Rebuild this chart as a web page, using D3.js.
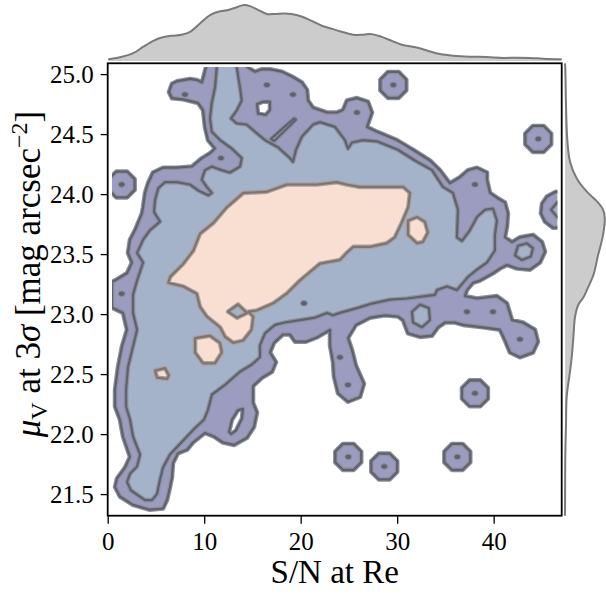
<!DOCTYPE html>
<html>
<head>
<meta charset="utf-8">
<script src="https://cdn.jsdelivr.net/npm/d3@7"></script>
<style>
body { margin: 0; background: #fff; }
svg text { font-family: "Liberation Serif", "Times New Roman", serif; fill: #000; }
</style>
</head>
<body>
<script>
// ticks
var xTicks = [0, 10, 20, 30, 40];
var yTicks = [21.5, 22.0, 22.5, 23.0, 23.5, 24.0, 24.5, 25.0];

// marginal densities (x: S/N, y: mu_V), relative units
var xMargGrid = [0.06,1.27,2.65,3.69,4.73,5.60,6.63,7.67,8.53,9.56,10.60,11.46,12.50,13.37,14.12,14.75,15.61,16.48,17.34,18.37,19.59,20.96,22.18,23.38,24.07,25.45,26.49,27.36,28.39,29.43,30.47,32.02,33.22,34.44,35.81,37.54,39.27,40.99,42.38,43.76,45.14,47.05];
var xMargDens = [0.03,0.066,0.14,0.255,0.36,0.42,0.45,0.47,0.52,0.67,0.82,0.88,0.91,0.96,1.0,0.98,0.91,0.84,0.84,0.85,0.82,0.73,0.63,0.57,0.53,0.47,0.47,0.48,0.43,0.36,0.29,0.24,0.18,0.125,0.095,0.077,0.071,0.054,0.059,0.054,0.041,0.03];
var yMargGrid = [25.09,25.05,24.74,24.46,24.27,24.13,24.02,23.94,23.87,23.80,23.66,23.49,23.33,23.20,23.14,23.08,22.98,22.81,22.64,22.48,22.31,22.09,21.81,21.53,21.32];
var yMargDens = [0.0,0.005,0.018,0.04,0.09,0.21,0.39,0.57,0.68,0.71,0.68,0.59,0.51,0.39,0.33,0.24,0.18,0.15,0.12,0.077,0.03,0.018,0.005,0.002,0.0];

// KDE level 1 (outer) contour, [S/N, mu_V]
var outerMain = [[10.19,25.12],[10.19,25.06],[9.77,24.93],[9.25,24.95],[8.53,24.96],[7.18,24.94],[6.66,24.92],[6.35,24.85],[6.66,24.80],[7.80,24.79],[9.36,24.76],[9.88,24.70],[10.08,24.56],[10.39,24.45],[11.12,24.38],[10.60,24.34],[9.77,24.30],[8.73,24.23],[7.18,24.22],[5.73,24.22],[4.69,24.18],[4.18,24.09],[3.87,24.01],[3.66,23.89],[3.55,23.84],[2.83,23.70],[2.31,23.62],[2.10,23.51],[2.52,23.43],[2.00,23.34],[0.76,23.28],[0.45,23.27],[0.45,23.05],[0.55,23.05],[1.59,23.01],[2.00,22.87],[1.48,22.73],[1.07,22.56],[0.76,22.37],[0.76,22.23],[1.27,22.12],[1.59,21.98],[2.31,21.81],[1.79,21.72],[0.96,21.63],[0.76,21.56],[1.27,21.48],[2.62,21.41],[4.38,21.37],[5.73,21.38],[6.15,21.45],[6.46,21.56],[6.66,21.64],[6.77,21.76],[7.28,21.84],[8.22,21.87],[8.84,21.93],[10.08,22.01],[11.02,21.98],[11.95,21.93],[13.09,21.91],[14.43,21.97],[15.16,22.06],[15.47,22.18],[15.06,22.26],[15.06,22.40],[15.99,22.47],[17.03,22.52],[17.44,22.60],[16.82,22.68],[17.23,22.76],[18.16,22.83],[18.89,22.83],[19.41,22.77],[20.55,22.77],[21.79,22.81],[23.04,22.87],[23.04,22.74],[23.35,22.60],[23.45,22.48],[23.87,22.34],[24.90,22.27],[26.15,22.31],[26.56,22.42],[25.73,22.57],[25.32,22.70],[24.90,22.80],[25.73,22.91],[27.18,22.97],[28.73,22.99],[30.08,22.98],[30.60,22.95],[31.12,22.84],[32.36,22.81],[33.61,22.82],[34.23,22.89],[34.95,22.93],[35.99,22.93],[36.82,22.91],[38.89,22.89],[40.65,22.87],[41.17,22.78],[41.69,22.68],[42.72,22.64],[44.07,22.68],[44.59,22.77],[44.28,22.87],[43.03,22.93],[41.90,22.95],[41.38,23.09],[40.34,23.15],[38.27,23.13],[37.02,23.15],[37.23,23.20],[37.85,23.26],[38.58,23.28],[39.93,23.34],[40.65,23.38],[41.38,23.41],[42.41,23.38],[43.76,23.37],[44.80,23.43],[45.32,23.52],[45.01,23.60],[44.07,23.66],[42.72,23.64],[41.90,23.60],[41.17,23.64],[41.38,23.73],[41.48,23.84],[41.17,23.93],[40.34,23.97],[39.62,24.01],[39.31,24.12],[39.31,24.18],[38.27,24.22],[37.34,24.20],[36.50,24.14],[35.47,24.09],[34.43,24.20],[33.40,24.28],[31.64,24.37],[29.98,24.45],[27.91,24.52],[26.87,24.56],[27.39,24.68],[26.97,24.77],[25.83,24.80],[24.80,24.78],[24.38,24.70],[23.76,24.68],[22.73,24.68],[21.28,24.72],[20.76,24.78],[20.65,24.87],[20.13,24.93],[19.10,24.98],[18.06,25.02],[16.82,25.04],[15.99,25.04],[15.26,25.02],[14.43,25.06],[14.43,25.12]];
var outerEdgeBlob = [[46.45,24.02],[45.52,23.98],[45.01,23.92],[44.90,23.84],[45.32,23.77],[46.14,23.72],[47.49,23.72],[47.49,24.02]];
var outerHoles = [
  [[15.47,24.75],[16.09,24.77],[16.82,24.77],[16.82,24.70],[16.40,24.66],[15.57,24.67]],
  [[16.92,24.46],[18.16,24.55],[19.31,24.63],[19.51,24.62],[18.37,24.53],[17.23,24.44]],
  [[12.57,22.02],[12.88,22.12],[13.50,22.20],[14.02,22.21],[13.92,22.13],[13.30,22.03],[12.78,22.00]]
];
// single galaxies far from the rest (level 1 rings)
var singles = [[29.60,24.91],[44.62,24.46],[38.06,22.34],[24.93,21.81],[28.66,21.73],[36.23,21.81],[1.45,24.08]];

// KDE level 2 contour
var midMain = [[11.30,25.12],[11.30,25.06],[11.12,24.89],[10.78,24.76],[10.60,24.63],[10.78,24.52],[11.64,24.45],[12.85,24.38],[13.89,24.30],[13.71,24.23],[12.67,24.18],[11.81,24.20],[10.78,24.23],[10.08,24.20],[9.74,24.12],[10.26,24.06],[10.78,24.01],[10.42,23.99],[9.39,24.03],[8.53,24.08],[7.15,24.10],[5.94,24.10],[5.24,24.05],[4.90,23.95],[4.80,23.85],[5.42,23.77],[4.38,23.70],[3.66,23.62],[3.04,23.51],[3.66,23.43],[3.04,23.28],[2.62,23.16],[2.62,23.01],[3.04,22.87],[2.62,22.73],[2.10,22.56],[1.90,22.37],[1.90,22.23],[2.31,22.12],[2.62,21.98],[3.35,21.83],[3.04,21.73],[2.31,21.67],[2.00,21.60],[2.41,21.53],[3.87,21.45],[4.59,21.45],[5.11,21.50],[5.42,21.62],[5.73,21.72],[6.46,21.83],[7.28,21.90],[8.22,21.98],[9.05,22.05],[9.98,22.12],[10.39,22.20],[10.81,22.33],[12.16,22.41],[13.71,22.52],[14.95,22.58],[15.78,22.64],[15.78,22.74],[16.30,22.84],[17.34,22.91],[18.37,22.93],[19.93,22.95],[21.48,22.97],[22.73,23.01],[23.35,22.99],[24.07,23.01],[25.83,23.05],[27.49,23.09],[29.25,23.12],[31.02,23.13],[33.92,23.16],[34.12,23.20],[35.16,23.23],[36.19,23.20],[37.34,23.31],[38.27,23.37],[39.31,23.43],[40.13,23.53],[40.13,23.66],[40.34,23.78],[39.93,23.88],[39.10,23.87],[38.27,23.81],[37.54,23.70],[36.71,23.61],[36.19,23.64],[36.30,23.87],[35.78,24.01],[34.75,24.06],[33.61,24.20],[31.84,24.28],[30.08,24.37],[27.91,24.44],[26.46,24.45],[25.32,24.43],[24.90,24.38],[24.59,24.45],[23.56,24.56],[22.00,24.60],[21.28,24.58],[20.13,24.48],[19.51,24.37],[19.20,24.27],[18.89,24.30],[17.65,24.39],[16.30,24.45],[15.26,24.52],[14.40,24.58],[13.37,24.59],[12.78,24.63],[13.40,24.70],[13.89,24.78],[13.71,24.89],[13.37,25.06],[13.37,25.12]];
var midIslands = [
  [[42.52,23.57],[43.45,23.59],[44.07,23.55],[43.86,23.48],[42.93,23.45],[42.21,23.49]],
  [[31.53,23.02],[32.36,23.08],[33.29,23.05],[33.40,22.95],[32.57,22.89],[31.64,22.93]],
  [[47.49,23.95],[46.56,23.93],[45.94,23.87],[46.56,23.81],[47.49,23.78]]
];

// KDE level 3 contour
var innerMain = [[6.28,23.26],[6.46,23.31],[7.83,23.42],[8.87,23.53],[9.56,23.67],[10.94,23.76],[12.33,23.89],[14.05,24.01],[16.48,24.02],[18.55,24.08],[21.66,24.08],[23.73,24.10],[24.77,24.08],[26.15,24.06],[28.22,24.06],[30.63,24.06],[31.33,24.01],[31.15,23.89],[30.47,23.76],[29.77,23.64],[28.91,23.59],[27.18,23.56],[25.45,23.56],[24.77,23.51],[24.07,23.45],[22.00,23.42],[19.93,23.28],[18.55,23.17],[17.16,23.09],[15.44,23.03],[14.57,23.02],[15.09,22.98],[14.92,22.87],[14.05,22.78],[13.02,22.76],[12.16,22.81],[11.64,22.89],[10.26,22.98],[9.56,23.06],[9.22,23.17],[7.83,23.23]];
var innerIslands = [
  [[9.05,22.80],[10.60,22.82],[11.64,22.76],[11.84,22.68],[11.12,22.59],[9.88,22.59],[9.05,22.68]],
  [[4.90,22.53],[5.94,22.55],[6.35,22.49],[6.15,22.46],[5.11,22.47]],
  [[31.12,23.78],[32.05,23.81],[32.88,23.77],[33.19,23.68],[32.67,23.60],[32.05,23.59],[31.12,23.66]]
];
var innerHole = [[12.47,23.02],[13.50,23.08],[14.43,23.01],[13.40,22.97]];

// tiny local maxima
var peaks = [[8.01,24.83],[11.74,24.30],[16.50,24.91],[19.20,24.83],[25.83,24.68],[38.06,24.08],[24.07,22.64],[24.90,22.41],[37.23,23.02],[39.93,23.02],[42.72,22.79],[1.45,23.17],[20.34,23.09]];

var purple = "#9c9cc0", blue = "#a4b3ca", peach = "#f9dfd2";

var svg = d3.select("body")
  .append("svg")
    .attr("width", 606)
    .attr("height", 596);

var x = d3.scaleLinear().domain([0, 47.05]).range([107.7, 561.7]);
var y = d3.scaleLinear().domain([21.32, 25.09]).range([515.7, 63.3]);
var ty = d3.scaleLinear().domain([0, 1]).range([61, 5]);
var rx = d3.scaleLinear().domain([0, 1]).range([565, 621]);

// marginals
var topData = d3.zip(xMargGrid, xMargDens);
var rightData = d3.zip(yMargGrid, yMargDens);

svg.append("path")
    .attr("d", d3.area().x(function(d) { return x(d[0]); }).y0(ty(0)).y1(function(d) { return ty(d[1]); }).curve(d3.curveCatmullRom)(topData))
    .attr("fill", "#cccccc");
svg.append("path")
    .attr("d", d3.line().x(function(d) { return x(d[0]); }).y(function(d) { return ty(d[1]); }).curve(d3.curveCatmullRom)(topData))
    .attr("fill", "none").attr("stroke", "#7a7a7a").attr("stroke-width", 2);

svg.append("path")
    .attr("d", d3.area().y(function(d) { return y(d[0]); }).x0(rx(0)).x1(function(d) { return rx(d[1]); }).curve(d3.curveCatmullRom)(rightData))
    .attr("fill", "#cccccc");
svg.append("path")
    .attr("d", d3.line().y(function(d) { return y(d[0]); }).x(function(d) { return rx(d[1]); }).curve(d3.curveCatmullRom)(rightData))
    .attr("fill", "none").attr("stroke", "#7a7a7a").attr("stroke-width", 2);

// contour area
svg.append("clipPath").attr("id", "kdeclip").append("rect")
    .attr("x", x(0.45)).attr("y", y(25.06))
    .attr("width", x(46.6) - x(0.45)).attr("height", y(21.32) - y(25.06));

var g = svg.append("g").attr("clip-path", "url(#kdeclip)");
var poly = d3.line()
    .x(function(d) { return x(d[0]); })
    .y(function(d) { return y(d[1]); })
    .curve(d3.curveLinearClosed);

function octagon(c) {
  var cx = x(c[0]), cy = y(c[1]);
  var pts = d3.range(8).map(function(i) {
    var a = Math.PI / 8 + i * Math.PI / 4;
    return [cx + 14 * Math.cos(a), cy + 14 * Math.sin(a)];
  });
  return "M" + pts.join("L") + "Z";
}

var lvl1 = [outerMain, outerEdgeBlob].map(poly).concat(singles.map(octagon));
var lvl2 = [midMain].concat(midIslands).map(poly);
var lvl3 = [innerMain].concat(innerIslands).map(poly);

function fillPaths(paths, color) {
  g.selectAll(null).data(paths).enter().append("path")
      .attr("d", function(d) { return d; })
      .attr("fill", color);
}
fillPaths(lvl1, purple);
fillPaths(outerHoles.map(poly), "#ffffff");
fillPaths(lvl2, blue);
fillPaths(lvl3, peach);
fillPaths([poly(innerHole)], blue);

function strokePaths(paths, halo, core) {
  var s = g.selectAll(null).data(paths).enter();
  s.append("path").attr("d", function(d) { return d; })
      .attr("fill", "none").attr("stroke", halo).attr("stroke-width", 4.6).attr("stroke-linejoin", "round");
  s.append("path").attr("d", function(d) { return d; })
      .attr("fill", "none").attr("stroke", core).attr("stroke-width", 2.2).attr("stroke-linejoin", "round");
}
strokePaths(lvl1.concat(outerHoles.map(poly)), "#8e9098", "#5d6170");
strokePaths(lvl2, "#8e9098", "#5d6170");
strokePaths(lvl3.concat([poly(innerHole)]), "#aaa09c", "#7d7572");

g.selectAll("ellipse.peak")
    .data(peaks.concat(singles))
  .enter().append("ellipse")
    .attr("class", "peak")
    .attr("cx", function(d) { return x(d[0]); })
    .attr("cy", function(d) { return y(d[1]); })
    .attr("rx", 3.4)
    .attr("ry", 2.8)
    .attr("fill", "#5d6170")
    .attr("stroke", "#8e9098")
    .attr("stroke-width", 1);

// frame and axes
svg.append("rect")
    .attr("x", x(0)).attr("y", y(25.09))
    .attr("width", x(47.05) - x(0)).attr("height", y(21.32) - y(25.09))
    .attr("fill", "none").attr("stroke", "#000").attr("stroke-width", 1.8);

var xAxis = svg.append("g")
    .attr("transform", "translate(0," + y(21.32) + ")")
    .call(d3.axisBottom(x).tickValues(xTicks).tickSize(8).tickPadding(8.5).tickFormat(d3.format("d")));
var yAxis = svg.append("g")
    .attr("transform", "translate(" + x(0) + ",0)")
    .call(d3.axisLeft(y).tickValues(yTicks).tickSize(7).tickPadding(7).tickFormat(d3.format(".1f")));

[xAxis, yAxis].forEach(function(a) {
  a.select(".domain").remove();
  a.selectAll("line").attr("stroke", "#000").attr("stroke-width", 1.3);
  a.selectAll("text").attr("font-family", "Liberation Serif, serif").attr("font-size", 25).attr("fill", "#000");
});

svg.append("text")
    .attr("x", (x(0) + x(47.05)) / 2)
    .attr("y", 583)
    .attr("text-anchor", "middle")
    .attr("font-size", 33)
    .text("S/N at Re");

var yl = svg.append("text")
    .attr("transform", "translate(40,274) rotate(-90)")
    .attr("text-anchor", "middle")
    .attr("font-size", 35);
yl.append("tspan").attr("font-style", "italic").text("\u03bc");
yl.append("tspan").attr("font-size", 24).attr("dy", 7).text("V");
yl.append("tspan").attr("dy", -7).text(" at 3");
yl.append("tspan").attr("font-style", "italic").text("\u03c3");
yl.append("tspan").text(" [mag arcsec");
yl.append("tspan").attr("font-size", 24).attr("dy", -13).text("\u22122");
yl.append("tspan").attr("dy", 13).text("]");
</script>
</body>
</html>
